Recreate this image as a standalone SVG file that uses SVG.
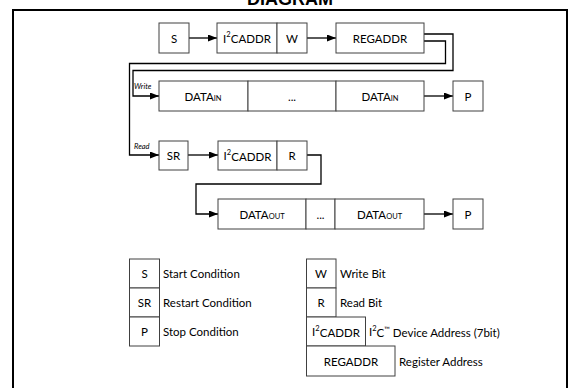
<svg xmlns="http://www.w3.org/2000/svg" width="580" height="388" viewBox="0 0 580 388">
<style>
.box{fill:#fff;stroke:#404040;stroke-width:1}
.t{font-family:Lato,"Open Sans","Liberation Sans",sans-serif;font-size:11.5px;fill:#000;text-anchor:middle;dominant-baseline:central}
.l{font-family:Lato,"Open Sans","Liberation Sans",sans-serif;font-size:11.5px;fill:#000;dominant-baseline:central}
.lab{font-family:Lato,"Open Sans","Liberation Sans",sans-serif;font-size:7.5px;font-style:italic;fill:#000}
.c{fill:none;stroke:#000;stroke-width:1.3}
.sub{font-size:7.5px}
</style>
<defs>
<marker id="ah" markerWidth="9" markerHeight="7" refX="9" refY="3.5" orient="auto" markerUnits="userSpaceOnUse">
<path d="M0,0 L9,3.5 L0,7 z" fill="#000"/>
</marker>
</defs>
<text x="290" y="5" font-family="Liberation Sans,Arial,sans-serif" font-size="18" font-weight="bold" text-anchor="middle">DIAGRAM</text>
<path d="M13,400 V10 H567 V400" fill="none" stroke="#000" stroke-width="2"/>

<g id="connectors">
<path class="c" d="M189,38 H217" marker-end="url(#ah)"/>
<path class="c" d="M307,38 H336" marker-end="url(#ah)"/>
<path class="c" d="M424,41 H445.5 V63.5 H129.5 V155 H159" marker-end="url(#ah)"/>
<path class="c" d="M424,34 H453 V70.5 H133 V96 H159" marker-end="url(#ah)"/>
<path class="c" d="M424,96 H453" marker-end="url(#ah)"/>
<path class="c" d="M188,155 H218" marker-end="url(#ah)"/>
<path class="c" d="M307,155 H321 V184 H196 V214 H218" marker-end="url(#ah)"/>
<path class="c" d="M424,214 H453" marker-end="url(#ah)"/>
<text class="lab" x="134" y="89">Write</text>
<text class="lab" x="134" y="149">Read</text>
</g>

<g id="s"><rect class="box" x="159" y="23" width="30" height="30"/><text class="t" x="174" y="38">S</text></g>
<g id="i2caddr-w">
<rect class="box" x="217" y="23" width="60" height="30"/><text class="t" x="247" y="38">I<tspan class="sub" dy="-4">2</tspan><tspan dy="4">CADDR</tspan></text>
<rect class="box" x="277" y="23" width="30" height="30"/><text class="t" x="292" y="38">W</text>
</g>
<g id="regaddr"><rect class="box" x="336" y="23" width="88" height="30"/><text class="t" x="380" y="38">REGADDR</text></g>

<g id="data-in">
<rect class="box" x="159" y="81" width="89" height="30"/><text class="t" x="203" y="96">DATA<tspan class="sub" dy="2">IN</tspan></text>
<rect class="box" x="248" y="81" width="88" height="30"/><text class="t" x="292" y="96">...</text>
<rect class="box" x="336" y="81" width="88" height="30"/><text class="t" x="380" y="96">DATA<tspan class="sub" dy="2">IN</tspan></text>
</g>
<g id="p1"><rect class="box" x="453" y="81" width="30" height="30"/><text class="t" x="468" y="96">P</text></g>

<g id="sr"><rect class="box" x="159" y="141" width="29" height="29"/><text class="t" x="173.5" y="155.5">SR</text></g>
<g id="i2caddr-r">
<rect class="box" x="218" y="141" width="59" height="29"/><text class="t" x="247.5" y="155.5">I<tspan class="sub" dy="-4">2</tspan><tspan dy="4">CADDR</tspan></text>
<rect class="box" x="277" y="141" width="30" height="29"/><text class="t" x="292" y="155.5">R</text>
</g>

<g id="data-out">
<rect class="box" x="218" y="199" width="88" height="30"/><text class="t" x="262" y="214">DATA<tspan class="sub" dy="2">OUT</tspan></text>
<rect class="box" x="306" y="199" width="29" height="30"/><text class="t" x="320.5" y="214">...</text>
<rect class="box" x="335" y="199" width="89" height="30"/><text class="t" x="379.5" y="214">DATA<tspan class="sub" dy="2">OUT</tspan></text>
</g>
<g id="p2"><rect class="box" x="453" y="199" width="30" height="30"/><text class="t" x="468" y="214">P</text></g>

<g id="legend-left">
<rect class="box" x="129.5" y="259" width="30" height="29"/><text class="t" x="144.5" y="273.5">S</text><text class="l" x="163" y="273.5">Start Condition</text>
<rect class="box" x="129.5" y="288" width="30" height="29"/><text class="t" x="144.5" y="302.5">SR</text><text class="l" x="163" y="302.5">Restart Condition</text>
<rect class="box" x="129.5" y="317" width="30" height="29"/><text class="t" x="144.5" y="331.5">P</text><text class="l" x="163" y="331.5">Stop Condition</text>
</g>
<g id="legend-right">
<rect class="box" x="306.5" y="259" width="29.5" height="29"/><text class="t" x="321" y="273.5">W</text><text class="l" x="340" y="273.5">Write Bit</text>
<rect class="box" x="306.5" y="288" width="29.5" height="29"/><text class="t" x="321" y="302.5">R</text><text class="l" x="340" y="302.5">Read Bit</text>
<rect class="box" x="306.5" y="317" width="59" height="29"/><text class="t" x="336" y="331.5">I<tspan class="sub" dy="-4">2</tspan><tspan dy="4">CADDR</tspan></text><text class="l" x="369" y="331.5">I<tspan class="sub" dy="-4">2</tspan><tspan dy="4">C</tspan><tspan class="sub" dy="-3">™</tspan><tspan dy="3"> Device Address (7bit)</tspan></text>
<rect class="box" x="306.5" y="346" width="88.5" height="30"/><text class="t" x="351" y="361">REGADDR</text><text class="l" x="399" y="361">Register Address</text>
</g>
</svg>
